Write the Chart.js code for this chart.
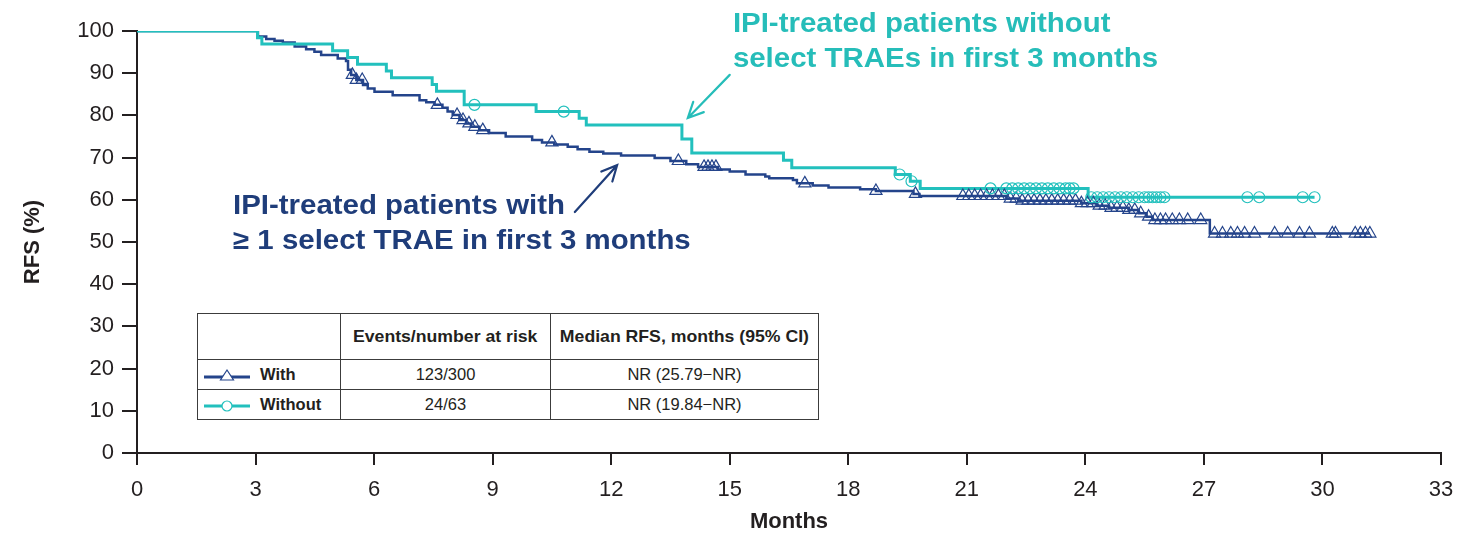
<!DOCTYPE html>
<html>
<head>
<meta charset="utf-8">
<script src="https://cdn.jsdelivr.net/npm/chart.js@4.4.1/dist/chart.umd.min.js"></script>
<style>
  html, body { margin: 0; padding: 0; background: #fff; }
  #wrap { position: relative; width: 1458px; height: 535px; }
  #chart { position: absolute; left: 0; top: 0; }
  #riskTable {
    position: absolute; left: 197px; top: 313px; width: 621px;
    border-collapse: collapse; table-layout: fixed; background: #fff;
    font-family: "Liberation Sans", Arial, sans-serif; font-size: 16.5px; color: #231f20;
  }
  #riskTable td { border: 1.5px solid #3c3c3c; text-align: center; padding: 0; white-space: nowrap; }
  #riskTable tr.head td { height: 45px; font-weight: bold; }
  #riskTable tr.head td span { display: inline-block; transform: scaleX(1.07); }
  #riskTable tr.row td { height: 29px; }
  #riskTable td.lg { text-align: left; padding-left: 6px; font-weight: bold; }
  #riskTable td.lg svg { vertical-align: middle; margin-right: 10px; }
</style>
</head>
<body>
<div id="wrap">
  <canvas id="chart" width="1458" height="535"></canvas>
  <table id="riskTable">
    <colgroup><col style="width:143px"><col style="width:210px"><col style="width:268px"></colgroup>
    <tr class="head"><td></td><td><span>Events/number at risk</span></td><td><span>Median RFS, months (95% CI)</span></td></tr>
    <tr class="row">
      <td class="lg"><svg width="46" height="16"><line x1="0" y1="9" x2="46" y2="9" stroke="#24448b" stroke-width="3"/><polygon points="23,2 29.5,12 16.5,12" fill="#fff" stroke="#24448b" stroke-width="1.2"/></svg>With</td>
      <td>123/300</td><td>NR (25.79−NR)</td>
    </tr>
    <tr class="row">
      <td class="lg"><svg width="46" height="16"><line x1="0" y1="8" x2="46" y2="8" stroke="#22c0bd" stroke-width="3"/><circle cx="23" cy="8" r="5" fill="#fff" stroke="#22c0bd" stroke-width="1.2"/></svg>Without</td>
      <td>24/63</td><td>NR (19.84−NR)</td>
    </tr>
  </table>
</div>
<script>
// tick labels
const xTicks = [0, 3, 6, 9, 12, 15, 18, 21, 24, 27, 30, 33];
const yTicks = [0, 10, 20, 30, 40, 50, 60, 70, 80, 90, 100];

// IPI-treated patients with >= 1 select TRAE (KM steps: time, RFS after the step)
const withTimes = [0, 3.06, 3.27, 3.48, 3.69, 3.99, 4.28, 4.49, 4.66, 5.08, 5.29, 5.34, 5.42, 5.55, 5.72, 5.84, 6.01, 6.47,
  7.15, 7.32, 7.53, 7.73, 7.86, 7.99, 8.16, 8.33, 8.45, 8.66, 8.91, 9.33, 10.0, 10.25, 10.56, 10.9, 11.15, 11.45, 11.8,
  12.25, 13.1, 13.5, 13.9, 14.2, 14.7, 15.0, 15.4, 15.9, 16.0, 16.6, 16.7, 17.1, 17.5, 18.3, 18.7, 19.65, 19.8,
  22.0, 22.3, 23.9, 24.3, 24.6, 25.1, 25.35, 25.55, 25.7, 27.15, 31.2];
const withRFS = [100, 98.7, 98.1, 97.7, 97.3, 96.3, 95.7, 95.1, 94.3, 93.5, 92.9, 90.8, 89.6, 88.4, 87.2, 86.4, 85.6, 84.8,
  83.6, 83.1, 82.5, 81.8, 80.9, 80.1, 78.9, 78.1, 77.3, 76.5, 75.8, 75.0, 74.2, 73.6, 73.1, 72.6, 72.0, 71.4, 71.0,
  70.5, 69.9, 69.2, 68.4, 67.8, 67.2, 66.7, 66.0, 65.5, 65.1, 64.7, 63.9, 63.4, 62.9, 62.5, 62.1, 61.4, 60.9,
  60.3, 59.8, 59.2, 58.6, 58.1, 57.6, 56.8, 56.0, 55.2, 52.0, 52.0];
const withCensored = [5.45, 5.55, 5.7, 7.6, 8.1, 8.25, 8.4, 8.55, 8.75, 10.5, 13.7, 14.35, 14.45, 14.55, 14.65, 16.9, 18.7, 19.7,
  20.9, 21.05, 21.2, 21.35, 21.5, 21.65, 21.8, 21.95, 22.1, 22.25, 22.4, 22.55, 22.7, 22.85, 23.0, 23.15, 23.3, 23.45,
  23.6, 23.75, 23.9, 24.05, 24.2, 24.35, 24.5, 24.65, 24.8, 24.95, 25.1, 25.25, 25.4, 25.6,
  25.76, 25.9, 26.03, 26.2, 26.38, 26.59, 26.92, 27.27, 27.47, 27.68, 27.85, 28.03, 28.28, 28.79, 29.12, 29.42, 29.67,
  30.25, 30.33, 30.83, 30.96, 31.09, 31.2];

// IPI-treated patients without select TRAEs
const withoutTimes = [0, 3.05, 3.16, 4.95, 5.33, 5.58, 6.31, 6.44, 7.47, 7.58, 8.28, 10.1, 11.19, 11.37, 13.79, 14.04,
  16.36, 16.57, 19.19, 19.57, 19.82, 24.07, 29.8];
const withoutRFS = [100, 98.4, 96.9, 95.3, 93.7, 92.1, 90.5, 88.9, 87.3, 85.7, 82.5, 80.9, 79.3, 77.7, 74.4, 71.1,
  69.4, 67.6, 66.0, 64.4, 62.7, 60.6, 60.6];
const withoutCensored = [8.54, 10.8, 19.3, 19.6, 21.6, 22.0, 22.15, 22.3, 22.45, 22.6, 22.75, 22.9, 23.05, 23.2, 23.35,
  23.5, 23.6, 23.7, 24.15, 24.3, 24.45, 24.6, 24.75, 24.9, 25.05, 25.2, 25.35, 25.5, 25.6, 25.7, 25.8, 25.9, 26.0,
  28.1, 28.4, 29.5, 29.8];

const navy = '#24448b';
const cyan = '#22c0bd';
const ink = '#231f20';

function stepAt(times, vals, t) {
  let v = vals[0];
  for (let i = 0; i < times.length; i++) { if (times[i] <= t) v = vals[i]; }
  return v;
}
const toPts = (times, vals) => times.map((t, i) => ({ x: t, y: vals[i] }));
const censorPts = (cens, times, vals) => cens.map(t => ({ x: t, y: stepAt(times, vals, t) }));

// text callouts, placed in data units
const callouts = [
  { lines: ['IPI-treated patients without', 'select TRAEs in first 3 months'], color: '#26bdb9',
    x: 15.08, y: [101.6, 93.3], from: [15.0, 89.6], to: [13.94, 79.4] },
  { lines: ['IPI-treated patients with', '\u2265 1 select TRAE in first 3 months'], color: '#1f3d7a',
    x: 2.43, y: [58.3, 50.0], from: [11.08, 57.1], to: [12.15, 68.2] }
];

const calloutPlugin = {
  id: 'callouts',
  afterDatasetsDraw(chart) {
    const { ctx, scales: { x, y } } = chart;
    ctx.save();
    callouts.forEach(c => {
      ctx.fillStyle = c.color;
      ctx.strokeStyle = c.color;
      ctx.font = 'bold 27px "Liberation Sans", Arial, sans-serif';
      ctx.textAlign = 'left';
      ctx.textBaseline = 'middle';
      c.lines.forEach((s, i) => {
        ctx.save();
        ctx.translate(x.getPixelForValue(c.x), y.getPixelForValue(c.y[i]));
        ctx.scale(1.09, 1);   // source lettering is a little wide
        ctx.fillText(s, 0, 0);
        ctx.restore();
      });
      const x1 = x.getPixelForValue(c.from[0]), y1 = y.getPixelForValue(c.from[1]);
      const x2 = x.getPixelForValue(c.to[0]), y2 = y.getPixelForValue(c.to[1]);
      const a = Math.atan2(y2 - y1, x2 - x1), h = 17, w = 0.45;
      ctx.lineWidth = 2.2;
      ctx.lineCap = 'round';
      ctx.beginPath();
      ctx.moveTo(x1, y1); ctx.lineTo(x2, y2);
      ctx.moveTo(x2 - h * Math.cos(a - w), y2 - h * Math.sin(a - w));
      ctx.lineTo(x2, y2);
      ctx.lineTo(x2 - h * Math.cos(a + w), y2 - h * Math.sin(a + w));
      ctx.stroke();
    });
    ctx.restore();
  }
};

Chart.defaults.font.family = '"Liberation Sans", Arial, sans-serif';
Chart.defaults.color = ink;

const fixPad = s => { s.paddingLeft = 0; s.paddingRight = 0; s.paddingTop = 0; s.paddingBottom = 0; };

new Chart(document.getElementById('chart'), {
  type: 'line',
  data: {
    datasets: [
      { label: 'Without censored', data: censorPts(withoutCensored, withoutTimes, withoutRFS), showLine: false,
        pointStyle: 'circle', pointRadius: 5.5, borderColor: cyan, backgroundColor: 'rgba(255,255,255,0)', borderWidth: 1.2 },
      { label: 'With censored', data: censorPts(withCensored, withTimes, withRFS), showLine: false,
        pointStyle: 'triangle', pointRadius: 7, borderColor: navy, backgroundColor: 'rgba(255,255,255,0)', borderWidth: 1.2 },
      { label: 'Without', data: toPts(withoutTimes, withoutRFS), stepped: true, borderColor: cyan, borderWidth: 3,
        pointRadius: 0, fill: false },
      { label: 'With', data: toPts(withTimes, withRFS), stepped: true, borderColor: navy, borderWidth: 2.5,
        pointRadius: 0, fill: false }
    ]
  },
  options: {
    responsive: false,
    animation: false,
    events: [],
    layout: { padding: { left: 10, top: 31, right: 17, bottom: 0 } },
    plugins: { legend: { display: false }, tooltip: { enabled: false } },
    scales: {
      x: {
        type: 'linear', min: 0, max: 33,
        afterBuildTicks: s => { s.ticks = xTicks.map(v => ({ value: v })); },
        afterFit: s => { s.height = 82; fixPad(s); },
        ticks: { font: { size: 22 }, color: ink, padding: 12, maxRotation: 0 },
        grid: { drawOnChartArea: false, drawTicks: true, tickLength: 12, color: ink, lineWidth: 2 },
        border: { display: true, color: ink, width: 2 },
        title: { display: true, text: 'Months', font: { size: 22, weight: 'bold' }, color: ink, padding: { top: 0, bottom: 0 } }
      },
      y: {
        type: 'linear', min: 0, max: 100,
        afterBuildTicks: s => { s.ticks = yTicks.map(v => ({ value: v })); },
        afterFit: s => { s.width = 127; fixPad(s); },
        ticks: { font: { size: 22 }, color: ink, padding: 8 },
        grid: { drawOnChartArea: false, drawTicks: true, tickLength: 15, color: ink, lineWidth: 2 },
        border: { display: true, color: ink, width: 2 },
        title: { display: true, text: 'RFS (%)', font: { size: 22, weight: 'bold' }, color: ink, padding: { top: 10, bottom: 0 } }
      }
    }
  },
  plugins: [calloutPlugin]
});
</script>
</body>
</html>
